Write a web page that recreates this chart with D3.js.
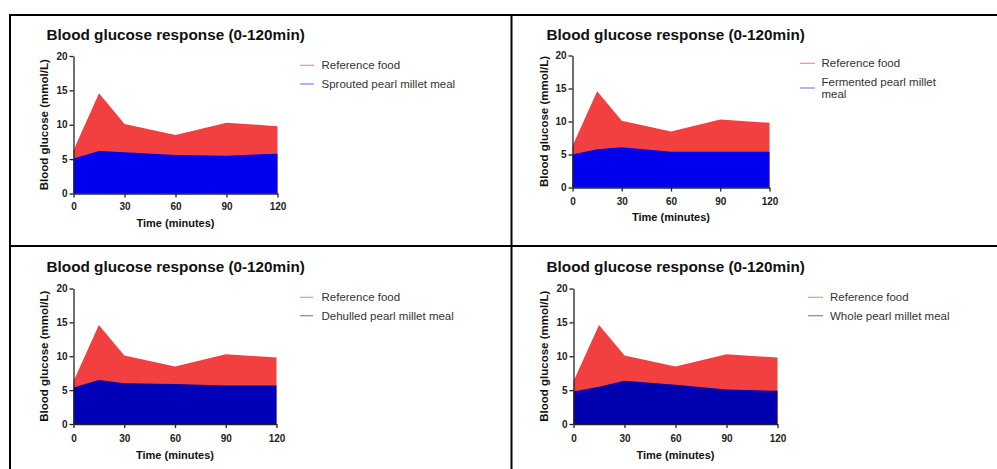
<!DOCTYPE html>
<html>
<head>
<meta charset="utf-8">
<script src="https://cdn.jsdelivr.net/npm/d3@7"></script>
<style>
  html, body { margin: 0; padding: 0; background: #fff; }
  svg { display: block; font-family: "Liberation Sans", Arial, sans-serif; }
</style>
</head>
<body>
<svg id="chart" width="997" height="469"></svg>
<script>
// ---- data ----
const times = [0, 15, 30, 60, 90, 120];
const referenceFood = [6.3, 14.6, 10.1, 8.5, 10.3, 9.8];
const sprouted = [5.1, 6.2, 6.0, 5.6, 5.5, 5.8];
const fermented = [5.0, 5.8, 6.1, 5.4, 5.4, 5.4];
const dehulled = [5.4, 6.5, 6.0, 5.9, 5.7, 5.7];
const whole = [4.8, 5.5, 6.4, 5.8, 5.1, 4.9];
const xTicks = [0, 30, 60, 90, 120];
const yTicks = [0, 5, 10, 15, 20];
const chartTitle = "Blood glucose response (0-120min)";
const xTitle = "Time (minutes)";
const yTitle = "Blood glucose (mmol/L)";
const referenceLabel = "Reference food";
const testLabels = [["Sprouted pearl millet meal"], ["Fermented pearl millet", "meal"], ["Dehulled pearl millet meal"], ["Whole pearl millet meal"]];
const testSeries = [sprouted, fermented, dehulled, whole];

// ---- layout (positions/styles only) ----
const panels = [
  {x0: 73.5, x1: 277.5, yT: 56, yB: 193.5, tx: 46.5, ty: 39.5, ytx: 43.5, lx0: 300, lx1: 314, ltx: 321.5, ly: [65.3, 84], blue: "#0000f0", tickDy: 13, titleDy: 29},
  {x0: 572.5, x1: 769.5, yT: 55.5, yB: 187.5, tx: 546.5, ty: 39.5, ytx: 543.5, lx0: 800, lx1: 815, ltx: 821.5, ly: [63.3, 81.7], blue: "#0000ee", tickDy: 13.5, titleDy: 29.5},
  {x0: 73.5, x1: 276.5, yT: 288.5, yB: 424, tx: 46.5, ty: 271.5, ytx: 43.5, lx0: 300, lx1: 313, ltx: 321.5, ly: [297.3, 315.7], blue: "#0000b8", tickDy: 14.3, titleDy: 30.5},
  {x0: 573.5, x1: 777.5, yT: 288.5, yB: 424, tx: 546.5, ty: 271.5, ytx: 543.5, lx0: 808, lx1: 823, ltx: 830, ly: [297.3, 315.7], blue: "#0000b0", tickDy: 14.3, titleDy: 30.5}
];
const red = "#f23f3f";

const svg = d3.select("#chart");

// table borders
const borderG = svg.append("g").attr("stroke", "#000").attr("stroke-width", 2);
borderG.append("line").attr("x1", 10).attr("x2", 997).attr("y1", 15).attr("y2", 15);
borderG.append("line").attr("x1", 10).attr("x2", 997).attr("y1", 246).attr("y2", 246);
borderG.append("line").attr("x1", 10).attr("x2", 10).attr("y1", 14).attr("y2", 469);
borderG.append("line").attr("x1", 511.5).attr("x2", 511.5).attr("y1", 14).attr("y2", 469);

panels.forEach((p, i) => {
  const g = svg.append("g");
  const x = d3.scaleLinear().domain([0, 120]).range([p.x0, p.x1]);
  const y = d3.scaleLinear().domain([0, 20]).range([p.yB, p.yT]);

  const refData = times.map((t, k) => ({t, v: referenceFood[k]}));
  const testData = times.map((t, k) => ({t, v: testSeries[i][k]}));
  const area = d3.area().x(d => x(d.t)).y0(y(0)).y1(d => y(d.v));

  g.append("path").datum(refData).attr("d", area).attr("fill", red);
  g.append("path").datum(testData).attr("d", area).attr("fill", p.blue);

  // axes
  const xAxis = d3.axisBottom(x).tickValues(xTicks).tickSize(4).tickSizeOuter(0).tickPadding(3);
  const yAxis = d3.axisLeft(y).tickValues(yTicks).tickSize(4).tickSizeOuter(0).tickPadding(2);
  const xg = g.append("g").attr("transform", `translate(0,${p.yB})`).call(xAxis);
  const yg = g.append("g").attr("transform", `translate(${p.x0},0)`).call(yAxis);
  [xg, yg].forEach(a => {
    a.select(".domain").attr("stroke", "#222").attr("stroke-width", 1.3);
    a.selectAll(".tick line").attr("stroke", "#222").attr("stroke-width", 1.3);
    a.selectAll(".tick text").attr("fill", "#222").attr("font-size", "10px").attr("font-weight", "bold").attr("font-family", '"Liberation Sans", Arial, sans-serif');
  });
  xg.selectAll(".tick text").attr("dy", null).attr("y", p.tickDy).attr("dominant-baseline", "central");

  // titles
  g.append("text").attr("x", p.tx).attr("y", p.ty).attr("font-size", "15.3px").attr("font-weight", "bold").attr("fill", "#111").text(chartTitle);
  g.append("text").attr("x", (p.x0 + p.x1) / 2).attr("y", p.yB + p.titleDy).attr("text-anchor", "middle").attr("dominant-baseline", "central")
    .attr("font-size", "11px").attr("font-weight", "bold").attr("fill", "#111").text(xTitle);
  g.append("text").attr("transform", `translate(${p.ytx},${(p.yT + p.yB) / 2}) rotate(-90)`).attr("text-anchor", "middle").attr("dominant-baseline", "central")
    .attr("font-size", "11.5px").attr("font-weight", "bold").attr("fill", "#111").text(yTitle);

  // legend
  const lg = g.append("g");
  lg.append("line").attr("x1", p.lx0).attr("x2", p.lx1).attr("y1", p.ly[0]).attr("y2", p.ly[0]).attr("stroke", red).attr("stroke-opacity", 0.6).attr("stroke-width", 1.2);
  lg.append("text").attr("x", p.ltx).attr("y", p.ly[0]).attr("dominant-baseline", "central").attr("font-size", "11.5px").attr("fill", "#333").text(referenceLabel);
  const lines = testLabels[i];
  const swY = lines.length > 1 ? p.ly[1] + 6.3 : p.ly[1];
  lg.append("line").attr("x1", p.lx0).attr("x2", p.lx1).attr("y1", swY).attr("y2", swY).attr("stroke", p.blue).attr("stroke-opacity", 0.5).attr("stroke-width", 1.2);
  const t = lg.append("text").attr("x", p.ltx).attr("y", p.ly[1]).attr("dominant-baseline", "central").attr("font-size", "11.5px").attr("fill", "#333");
  lines.forEach((ln, k) => {
    t.append("tspan").attr("x", p.ltx).attr("y", p.ly[1] + k * 12.6).attr("dominant-baseline", "central").text(ln);
  });
});
</script>
</body>
</html>
